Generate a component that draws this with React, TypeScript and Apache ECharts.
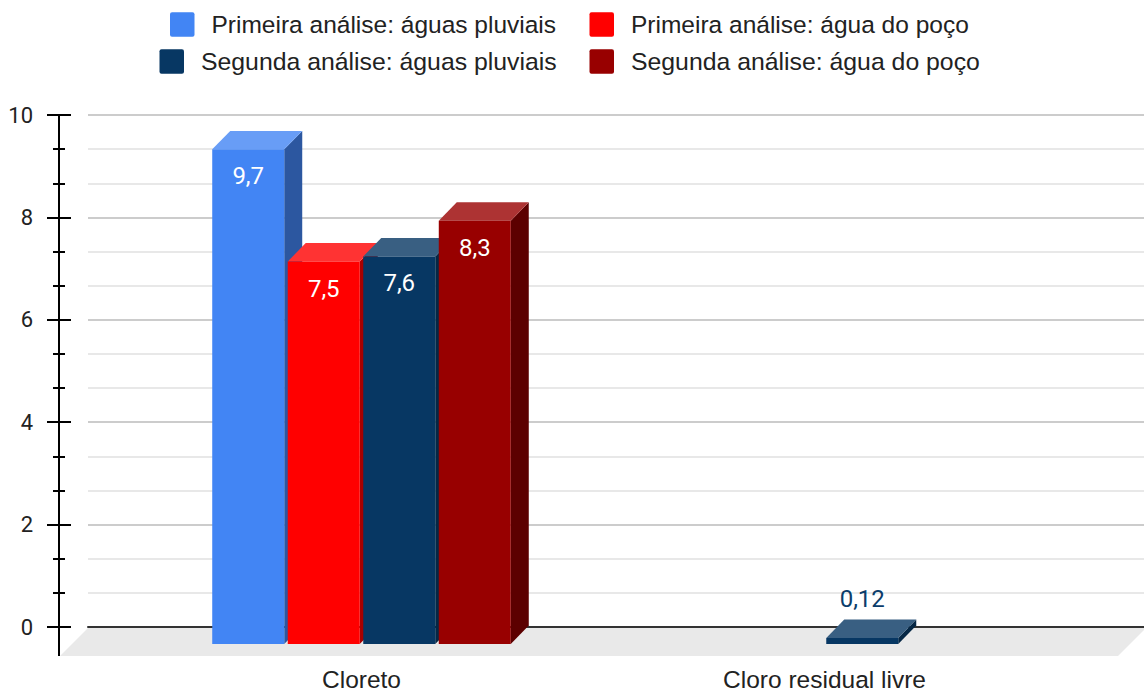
import React, { useEffect, useRef } from "react";
import * as echarts from "echarts";

const categories = ["Cloreto", "Cloro residual livre"];
const primeiraPluviais = [9.7, null];
const primeiraPoco = [7.5, null];
const segundaPluviais = [7.6, 0.12];
const segundaPoco = [8.3, null];

const seriesNames = [
  "Primeira análise: águas pluviais",
  "Primeira análise: água do poço",
  "Segunda análise: águas pluviais",
  "Segunda análise: água do poço",
];
const seriesValues = [primeiraPluviais, primeiraPoco, segundaPluviais, segundaPoco];

// front, top and side face of each extruded bar
const faceColors = [
  { front: "#4285f4", top: "#689df6", side: "#2c57a0" },
  { front: "#ff0000", top: "#ff3333", side: "#a80000" },
  { front: "#073763", top: "#395f82", side: "#052745" },
  { front: "#980000", top: "#ad3333", side: "#5c0000" },
];

const legendSpots = [
  { left: 170, top: 12, fontSize: 24.5 },
  { left: 589.5, top: 12, fontSize: 24.5 },
  { left: 159.5, top: 49, fontSize: 24.8 },
  { left: 589.5, top: 49, fontSize: 24.8 },
];

const SWATCH = "path://M2 0H22Q24 0 24 2V22Q24 24 22 24H2Q0 24 0 22V2Q0 0 2 0Z";
const FONT = "Roboto";
const TEXT_FONT = "Liberation Sans";
const DEPTH_X = 18;
const DEPTH_Y = 18.4;

function decimalComma(v: number) {
  return String(v).replace(".", ",");
}

function barRenderer(slot: number) {
  const colors = faceColors[slot];
  return (_params: any, api: any) => {
    const value = api.value(1);
    const [cx, top] = api.coord([api.value(0), value]);
    const [, base] = api.coord([api.value(0), 0]);
    const band = api.size([1, 0])[0];
    const width = band * 0.1555;
    const left = cx + (slot - 1.5) * band * 0.1631 - width / 2;
    const right = left + width;
    const tall = base - top > 40;
    return {
      type: "group",
      children: [
        {
          type: "polygon",
          shape: { points: [[right, top], [right + DEPTH_X, top - DEPTH_Y], [right + DEPTH_X, base - DEPTH_Y], [right, base]] },
          style: { fill: colors.side },
        },
        {
          type: "polygon",
          shape: { points: [[left, top], [left + DEPTH_X, top - DEPTH_Y], [right + DEPTH_X, top - DEPTH_Y], [right, top]] },
          style: { fill: colors.top },
        },
        {
          type: "rect",
          shape: { x: left, y: top, width, height: base - top },
          style: { fill: colors.front },
        },
        {
          type: "text",
          x: (left + right) / 2,
          y: tall ? top + 27 : top - 39,
          style: {
            text: decimalComma(value),
            fontFamily: FONT,
            fontSize: 24,
            fill: tall ? "#ffffff" : "#0b3d6b",
            align: "center",
            verticalAlign: "middle",
          },
        },
      ],
    };
  };
}

export default function App() {
  const ref = useRef<HTMLDivElement>(null);

  useEffect(() => {
    const chart = echarts.init(ref.current!, undefined, { renderer: "svg" });
    const yTicks = { min: 0, max: 10, interval: 2 };
    chart.setOption({
      animation: false,
      backgroundColor: "#ffffff",
      textStyle: { fontFamily: FONT },
      legend: seriesNames.map((name, i) => ({
        data: [{ name, icon: SWATCH }],
        left: legendSpots[i].left,
        top: legendSpots[i].top,
        padding: 0,
        itemWidth: 24.5,
        itemHeight: 24.5,
        selectedMode: false,
        textStyle: {
          fontFamily: TEXT_FONT,
          fontSize: legendSpots[i].fontSize,
          color: "#222222",
          padding: [0, 0, 0, 12],
        },
      })),
      grid: [
        { left: 88, right: 0, top: 115, height: 512, outerBoundsMode: "none" },
        { left: 130, width: 926, top: 134, height: 510, outerBoundsMode: "none" },
      ],
      xAxis: [
        {
          gridIndex: 0,
          type: "value",
          min: 0,
          max: 1,
          axisLabel: { show: false },
          axisTick: { show: false },
          splitLine: { show: false },
          axisLine: { show: true, lineStyle: { color: "#333333", width: 2 } },
        },
        {
          gridIndex: 1,
          type: "category",
          data: categories,
          axisLine: { show: false },
          axisTick: { show: false },
          axisLabel: {
            margin: 25,
            lineHeight: 20,
            fontFamily: TEXT_FONT,
            fontSize: 24.5,
            color: "#222222",
          },
        },
      ],
      yAxis: [
        {
          gridIndex: 0,
          type: "value",
          ...yTicks,
          position: "left",
          offset: 29,
          axisLine: { show: true, onZero: false, lineStyle: { color: "#000000", width: 2 } },
          axisTick: { show: true, length: 12, lineStyle: { color: "#000000", width: 2 } },
          minorTick: { show: true, splitNumber: 3, length: 6, lineStyle: { color: "#000000", width: 2 } },
          axisLabel: { margin: 26, fontFamily: FONT, fontSize: 22, color: "#222222" },
          splitLine: { show: true, lineStyle: { color: "#cccccc", width: 2 } },
          minorSplitLine: { show: true, lineStyle: { color: "#e8e8e8", width: 2 } },
        },
        {
          // mirrors the ticks to the inner side of the axis line
          gridIndex: 0,
          type: "value",
          ...yTicks,
          position: "left",
          offset: 29,
          axisLine: { show: false, onZero: false },
          axisTick: { show: true, inside: true, length: 12, lineStyle: { color: "#000000", width: 2 } },
          minorTick: { show: true, splitNumber: 3, length: 6, lineStyle: { color: "#000000", width: 2 } },
          axisLabel: { show: false },
          splitLine: { show: false },
        },
        {
          gridIndex: 1,
          type: "value",
          ...yTicks,
          show: false,
        },
      ],
      graphic: [
        {
          type: "polygon",
          z: 1,
          silent: true,
          shape: { points: [[60, 656], [88, 628], [1146, 628], [1118, 656]] },
          style: { fill: "#e9e9e9" },
        },
        {
          type: "line",
          z: 1,
          silent: true,
          shape: { x1: 59, y1: 627, x2: 59, y2: 656 },
          style: { stroke: "#000000", lineWidth: 2 },
        },
      ],
      series: seriesNames.map((name, slot) => ({
        name,
        type: "custom",
        xAxisIndex: 1,
        yAxisIndex: 2,
        z: 5,
        itemStyle: { color: faceColors[slot].front },
        encode: { x: 0, y: 1 },
        data: seriesValues[slot]
          .map((v, i) => [i, v])
          .filter((d) => d[1] !== null),
        renderItem: barRenderer(slot),
      })),
    });
    return () => chart.dispose();
  }, []);

  return (
    <div
      ref={ref}
      style={{ position: "absolute", left: 0, top: 0, width: 1144, height: 693 }}
    />
  );
}
